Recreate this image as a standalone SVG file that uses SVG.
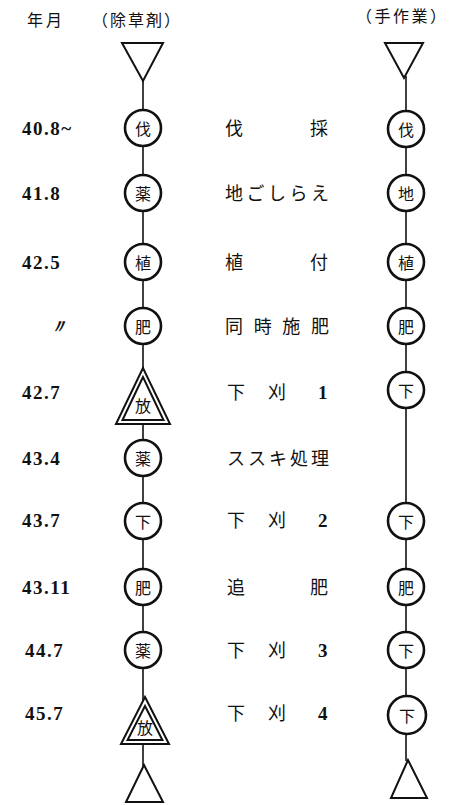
<svg xmlns="http://www.w3.org/2000/svg" width="464" height="805" viewBox="0 0 464 805">
<style>
.jp{font-family:"Noto Sans CJK JP","Noto Sans CJK SC",sans-serif;fill:#111}
.hd{font-size:16px}
.lb{font-size:18px}
.nt{font-size:16px;text-anchor:middle;dominant-baseline:central}
.dt{font-family:"Liberation Serif",serif;font-weight:bold;font-size:19px;fill:#111;letter-spacing:1.5px}
.c{fill:#fff;stroke:#111;stroke-width:2.6}
.t{fill:#fff;stroke:#111;stroke-width:2}
.ln{stroke:#111;stroke-width:1.6;fill:none}
</style>
<rect width="464" height="805" fill="#fff"/>
<g id="headers">
<text class="jp hd" x="27" y="26" letter-spacing="3">年月</text>
<text class="jp hd" x="92" y="26" textLength="88" lengthAdjust="spacing">（除草剤）</text>
<text class="jp hd" x="356" y="22" textLength="90" lengthAdjust="spacing">（手作業）</text>
</g>
<g id="connectors">
<line class="ln" x1="143" y1="80" x2="143" y2="766"/>
<line class="ln" x1="406" y1="76" x2="406" y2="761"/>
</g>
<g id="dates">
<text class="dt" x="22" y="135">40.8~</text>
<text class="dt" x="22" y="200">41.8</text>
<text class="dt" x="22" y="269">42.5</text>
<text class="dt" x="49" y="333" font-style="italic" font-size="12">〃</text>
<text class="dt" x="22" y="399">42.7</text>
<text class="dt" x="22" y="465">43.4</text>
<text class="dt" x="22" y="527">43.7</text>
<text class="dt" x="22" y="594">43.11</text>
<text class="dt" x="25" y="657">44.7</text>
<text class="dt" x="25" y="720">45.7</text>
</g>
<g id="labels">
<text class="jp lb" x="225" y="135">伐</text><text class="jp lb" x="310" y="135">採</text>
<text class="jp lb" x="225" y="200" textLength="104" lengthAdjust="spacing">地ごしらえ</text>
<text class="jp lb" x="225" y="269">植</text><text class="jp lb" x="310" y="269">付</text>
<text class="jp lb" x="225" y="333" textLength="104" lengthAdjust="spacing">同時施肥</text>
<text class="jp lb" x="227" y="399">下</text><text class="jp lb" x="268" y="399">刈</text><text class="dt" x="318" y="399">1</text>
<text class="jp lb" x="227" y="465" textLength="102" lengthAdjust="spacing">ススキ処理</text>
<text class="jp lb" x="227" y="527">下</text><text class="jp lb" x="268" y="527">刈</text><text class="dt" x="318" y="527">2</text>
<text class="jp lb" x="227" y="594">追</text><text class="jp lb" x="310" y="594">肥</text>
<text class="jp lb" x="227" y="657">下</text><text class="jp lb" x="268" y="657">刈</text><text class="dt" x="318" y="657">3</text>
<text class="jp lb" x="227" y="720">下</text><text class="jp lb" x="268" y="720">刈</text><text class="dt" x="318" y="720">4</text>
</g>
<g id="L-start"><polygon class="t" points="122,43 163,43 143,81"/></g>
<g id="L1"><circle class="c" cx="143" cy="128" r="18"/><text class="jp nt" x="143" y="128">伐</text></g>
<g id="L2"><circle class="c" cx="143" cy="193" r="18"/><text class="jp nt" x="143" y="193">薬</text></g>
<g id="L3"><circle class="c" cx="143" cy="262" r="18"/><text class="jp nt" x="143" y="262">植</text></g>
<g id="L4"><circle class="c" cx="143" cy="326" r="18"/><text class="jp nt" x="143" y="326">肥</text></g>
<g id="L5"><polygon class="t" points="143,368 116,424 170,424"/><polygon class="t" stroke-width="1.4" points="143,377 122.5,420 163.5,420"/><text class="jp nt" x="143" y="405" font-size="17">放</text></g>
<g id="L6"><circle class="c" cx="143" cy="458" r="18"/><text class="jp nt" x="143" y="458">薬</text></g>
<g id="L7"><circle class="c" cx="143" cy="521" r="18"/><text class="jp nt" x="143" y="521">下</text></g>
<g id="L8"><circle class="c" cx="143" cy="587" r="18"/><text class="jp nt" x="143" y="587">肥</text></g>
<g id="L9"><circle class="c" cx="143" cy="650" r="18"/><text class="jp nt" x="143" y="650">薬</text></g>
<g id="L10"><polygon class="t" points="145,697 121,744 169,744"/><polygon class="t" stroke-width="1.4" points="145,706 127.6,740 162.4,740"/><text class="jp nt" x="145" y="727" font-size="17">放</text></g>
<g id="L-end"><polygon class="t" points="144,765 126,802 163,802"/></g>
<g id="R-start"><polygon class="t" points="385,43 423,43 404,78"/></g>
<g id="R1"><circle class="c" cx="406" cy="129" r="18"/><text class="jp nt" x="406" y="129">伐</text></g>
<g id="R2"><circle class="c" cx="406" cy="193" r="18"/><text class="jp nt" x="406" y="193">地</text></g>
<g id="R3"><circle class="c" cx="406" cy="262" r="18"/><text class="jp nt" x="406" y="262">植</text></g>
<g id="R4"><circle class="c" cx="406" cy="326" r="18"/><text class="jp nt" x="406" y="326">肥</text></g>
<g id="R5"><circle class="c" cx="406" cy="390" r="18"/><text class="jp nt" x="406" y="390">下</text></g>
<g id="R6"><circle class="c" cx="406" cy="521" r="18"/><text class="jp nt" x="406" y="521">下</text></g>
<g id="R7"><circle class="c" cx="406" cy="587" r="18"/><text class="jp nt" x="406" y="587">肥</text></g>
<g id="R8"><circle class="c" cx="406" cy="650" r="18"/><text class="jp nt" x="406" y="650">下</text></g>
<g id="R9"><circle class="c" cx="407" cy="715" r="19"/><text class="jp nt" x="407" y="715">下</text></g>
<g id="R-end"><polygon class="t" points="408,760 391,798 427,798"/></g>
</svg>
